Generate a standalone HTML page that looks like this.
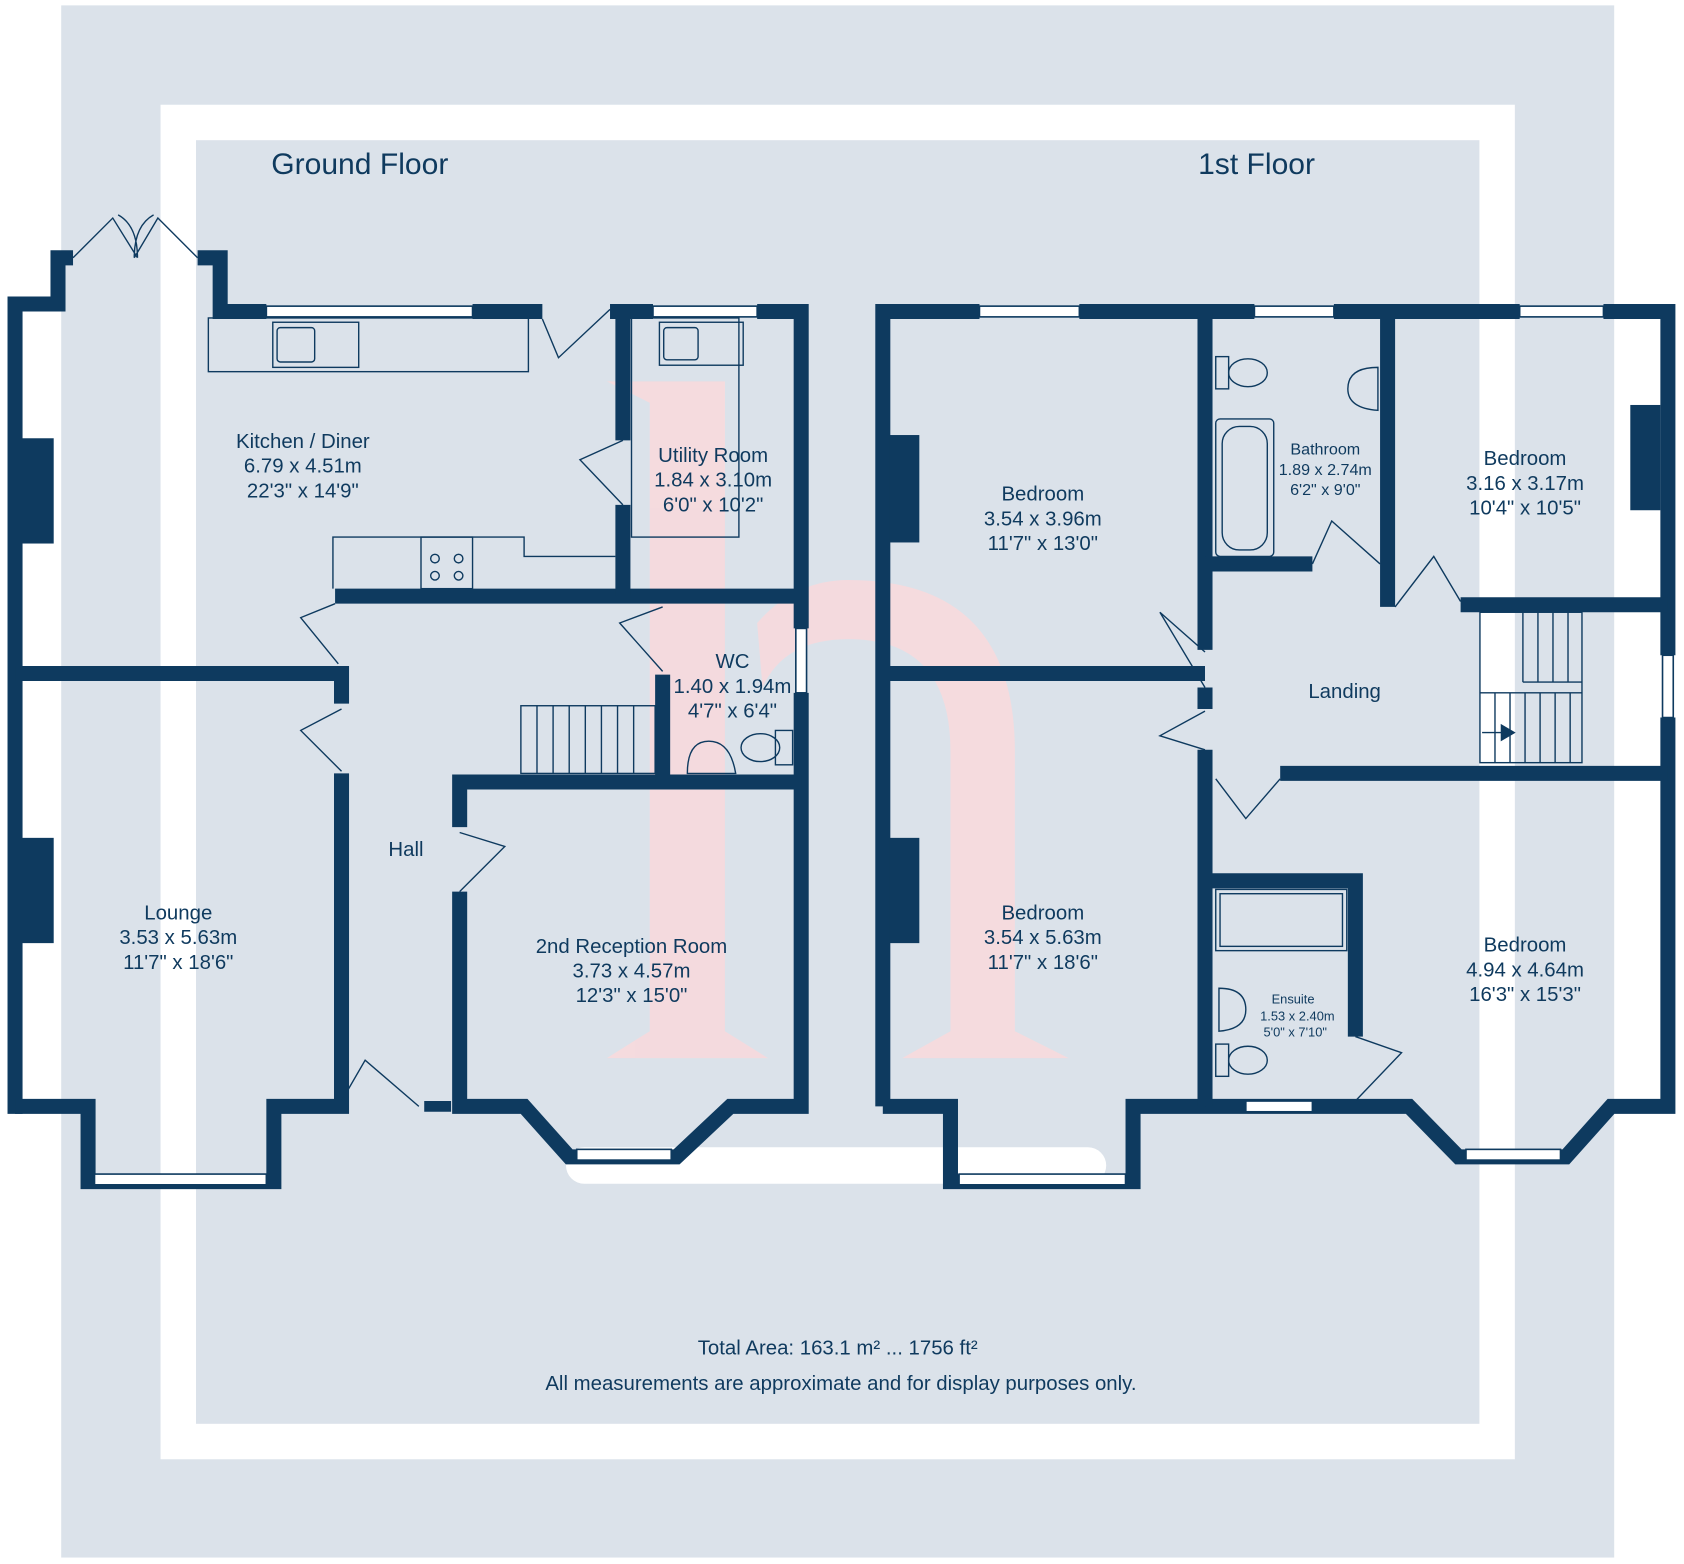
<!DOCTYPE html>
<html><head><meta charset="utf-8"><style>
html,body{margin:0;padding:0;background:#fff;}
svg{display:block;}
text{font-family:"Liberation Sans",sans-serif;fill:#0f3a5e;text-anchor:middle;}
</style></head><body>
<svg width="1684" height="1564" viewBox="0 0 1568 1456" preserveAspectRatio="none" xmlns="http://www.w3.org/2000/svg">
<rect width="1568" height="1456" fill="#fff"/>
<rect x="57" y="5" width="1446" height="1445" fill="#dbe2ea"/>
<rect x="166" y="114" width="1228" height="1228" fill="none" stroke="#fff" stroke-width="33"/>
<!-- watermark -->
<g fill="#f9d9dc" opacity="0.85">
<path d="M565 355 L675 355 L675 960 L715 985 L565 985 L605 960 L605 375 Z"/>
<path d="M840 985 L885 960 L885 700 Q885 595 790 595 Q730 595 710 640 L705 580 Q740 540 790 540 Q945 540 945 700 L945 960 L995 985 Z"/>
</g>
<rect x="527" y="1068" width="503" height="34" rx="17" fill="#fff"/>
<g fill="none" stroke="#0e3a5f" stroke-width="14" stroke-linejoin="miter">
<polyline points="14,1037 14,283 54,283 54,240 68,240"/>
<polyline points="184,240 205,240 205,290 248,290"/>
<polyline points="440,290 505,290"/>
<polyline points="568,290 608,290"/>
<polyline points="705,290 746,290 746,585"/>
<polyline points="746,645 746,1030 680,1030 630,1077 530,1077 488,1030 428,1030 428,830"/>
<polyline points="428,770 428,728 746,728"/>
<polyline points="14,1030 82,1030 82,1100 255,1100 255,1030 318,1030 318,720"/>
<polyline points="318,655 318,627 14,627"/>
<polyline points="312,555 746,555"/>
<polyline points="580,290 580,410"/>
<polyline points="580,470 580,555"/>
<polyline points="617,628 617,728"/>
<line x1="395" y1="1030" x2="420" y2="1030" stroke-width="10"/>
<polyline points="822,1030 822,290 912,290"/>
<polyline points="1005,290 1168,290"/>
<polyline points="1242,290 1415,290"/>
<polyline points="1493,290 1553,290 1553,610"/>
<polyline points="1553,668 1553,1030 1500,1030 1458,1077 1358,1077 1312,1030 1122,1030"/>
<polyline points="1122,1030 1055,1030 1055,1100 885,1100 885,1030 822,1030"/>
<polyline points="1122,290 1122,605"/>
<polyline points="1122,640 1122,660"/>
<polyline points="1122,698 1122,1030"/>
<polyline points="822,627 1122,627"/>
<polyline points="1122,525 1222,525"/>
<polyline points="1292,290 1292,565"/>
<polyline points="1360,563 1553,563"/>
<polyline points="1192,720 1553,720"/>
<polyline points="1128,820 1262,820 1262,965"/>
</g>
<g stroke="#0e3a5f" stroke-width="1.5" fill="#fff">
<rect x="248" y="285" width="192" height="10"/>
<rect x="608" y="285" width="97" height="10"/>
<rect x="741" y="585" width="10" height="60"/>
<rect x="912" y="285" width="93" height="10"/>
<rect x="1168" y="285" width="74" height="10"/>
<rect x="1415" y="285" width="78" height="10"/>
<rect x="1548" y="610" width="10" height="58"/>
<rect x="88" y="1093" width="160" height="10"/>
<rect x="537" y="1070" width="88" height="10"/>
<rect x="893" y="1093" width="155" height="10"/>
<rect x="1365" y="1070" width="88" height="10"/>
<rect x="1160" y="1025" width="62" height="10"/>
</g>
<g fill="#0e3a5f">
<rect x="20" y="408" width="30" height="98"/>
<rect x="20" y="780" width="30" height="98"/>
<rect x="828" y="405" width="28" height="100"/>
<rect x="828" y="780" width="28" height="98"/>
<rect x="1518" y="377" width="28" height="98"/>
</g>
<g fill="none" stroke="#0e3a5f" stroke-width="1.3">
<path d="M68 240 L105 203 L128 240 M128 240 Q128 210 110 200 M184 240 L147 203 L125 240 M125 240 Q125 210 143 200"/>
<rect x="194" y="296" width="298" height="50"/>
<rect x="254" y="300" width="80" height="42"/><rect x="258" y="305" width="35" height="32" rx="3"/>
<rect x="588" y="296" width="100" height="204"/>
<rect x="614" y="300" width="78" height="40"/><rect x="618" y="305" width="32" height="30" rx="3"/>
<path d="M310 548 L310 500 L488 500 L488 518 L573 518"/>
<rect x="392" y="500" width="48" height="48"/>
<circle cx="405" cy="520" r="4"/><circle cx="427" cy="520" r="4"/><circle cx="405" cy="536" r="4"/><circle cx="427" cy="536" r="4"/>
<path d="M505 297 L520 333 L568 288"/>
<path d="M580 410 L540 428 L580 470"/>
<path d="M312 562 L280 575 L315 618"/>
<path d="M318 660 L280 680 L318 718"/>
<path d="M428 775 L470 788 L428 830"/>
<path d="M318 1025 L340 987 L390 1030"/>
<path d="M617 565 L577 580 L617 625"/>
<rect x="485" y="657" width="125" height="63"/>
<path d="M500 657v63M515 657v63M530 657v63M545 657v63M560 657v63M575 657v63M590 657v63"/>
<path d="M640 720 L685 720 Q680 690 660 690 Q640 690 640 720Z"/>
<rect x="722" y="680" width="16" height="32"/><ellipse cx="708" cy="696" rx="18" ry="13"/>
<rect x="1132" y="390" width="54" height="128" rx="4"/><rect x="1138" y="397" width="42" height="115" rx="16"/>
<rect x="1132" y="332" width="12" height="30"/><ellipse cx="1162" cy="347" rx="18" ry="13"/>
<path d="M1283 342 L1283 382 Q1255 380 1255 362 Q1255 342 1283 342Z"/>
<path d="M1222 525 L1240 485 L1285 525"/>
<path d="M1299 565 L1335 518 L1360 560"/>
<path d="M1122 607 L1080 570 L1122 640"/>
<path d="M1122 662 L1080 685 L1122 698"/>
<path d="M1132 725 L1160 762 L1192 725"/>
<rect x="1378" y="570" width="95" height="140"/>
<path d="M1418 570v65M1432 570v65M1446 570v65M1460 570v65M1418 635h55M1378 645h95M1392 645v65M1406 645v65M1420 645v65M1434 645v65M1448 645v65M1462 645v65"/>
<path d="M1380 682h20" /><path d="M1398 675 L1410 682 L1398 689Z" fill="#0e3a5f"/>
<rect x="1132" y="828" width="122" height="57"/><rect x="1136" y="832" width="114" height="49"/>
<path d="M1135 920 L1135 960 Q1160 958 1160 940 Q1160 920 1135 920Z"/>
<rect x="1132" y="972" width="12" height="30"/><ellipse cx="1162" cy="987" rx="18" ry="13"/>
<path d="M1262 965 L1305 980 L1262 1025"/>
</g>
<text x="335" y="162" font-size="28">Ground Floor</text>
<text x="1170" y="162" font-size="28">1st Floor</text>
<g font-size="19">
<text x="282" y="417">Kitchen / Diner</text><text x="282" y="440">6.79 x 4.51m</text><text x="282" y="463">22'3" x 14'9"</text>
<text x="664" y="430">Utility Room</text><text x="664" y="453">1.84 x 3.10m</text><text x="664" y="476">6'0" x 10'2"</text>
<text x="682" y="622">WC</text><text x="682" y="645">1.40 x 1.94m</text><text x="682" y="668">4'7" x 6'4"</text>
<text x="378" y="797">Hall</text>
<text x="166" y="856">Lounge</text><text x="166" y="879">3.53 x 5.63m</text><text x="166" y="902">11'7" x 18'6"</text>
<text x="588" y="887">2nd Reception Room</text><text x="588" y="910">3.73 x 4.57m</text><text x="588" y="933">12'3" x 15'0"</text>
<text x="971" y="466">Bedroom</text><text x="971" y="489">3.54 x 3.96m</text><text x="971" y="512">11'7" x 13'0"</text>
<text x="1420" y="433">Bedroom</text><text x="1420" y="456">3.16 x 3.17m</text><text x="1420" y="479">10'4" x 10'5"</text>
<text x="1252" y="650">Landing</text>
<text x="971" y="856">Bedroom</text><text x="971" y="879">3.54 x 5.63m</text><text x="971" y="902">11'7" x 18'6"</text>
<text x="1420" y="886">Bedroom</text><text x="1420" y="909">4.94 x 4.64m</text><text x="1420" y="932">16'3" x 15'3"</text>
</g>
<g font-size="15">
<text x="1234" y="423">Bathroom</text><text x="1234" y="442">1.89 x 2.74m</text><text x="1234" y="461">6'2" x 9'0"</text>
</g>
<g font-size="12">
<text x="1204" y="934">Ensuite</text><text x="1208" y="950">1.53 x 2.40m</text><text x="1206" y="965">5'0" x 7'10"</text>
</g>
<text x="780" y="1261" font-size="19">Total Area: 163.1 m² ... 1756 ft²</text>
<text x="783" y="1294" font-size="19">All measurements are approximate and for display purposes only.</text>
</svg>
</body></html>
